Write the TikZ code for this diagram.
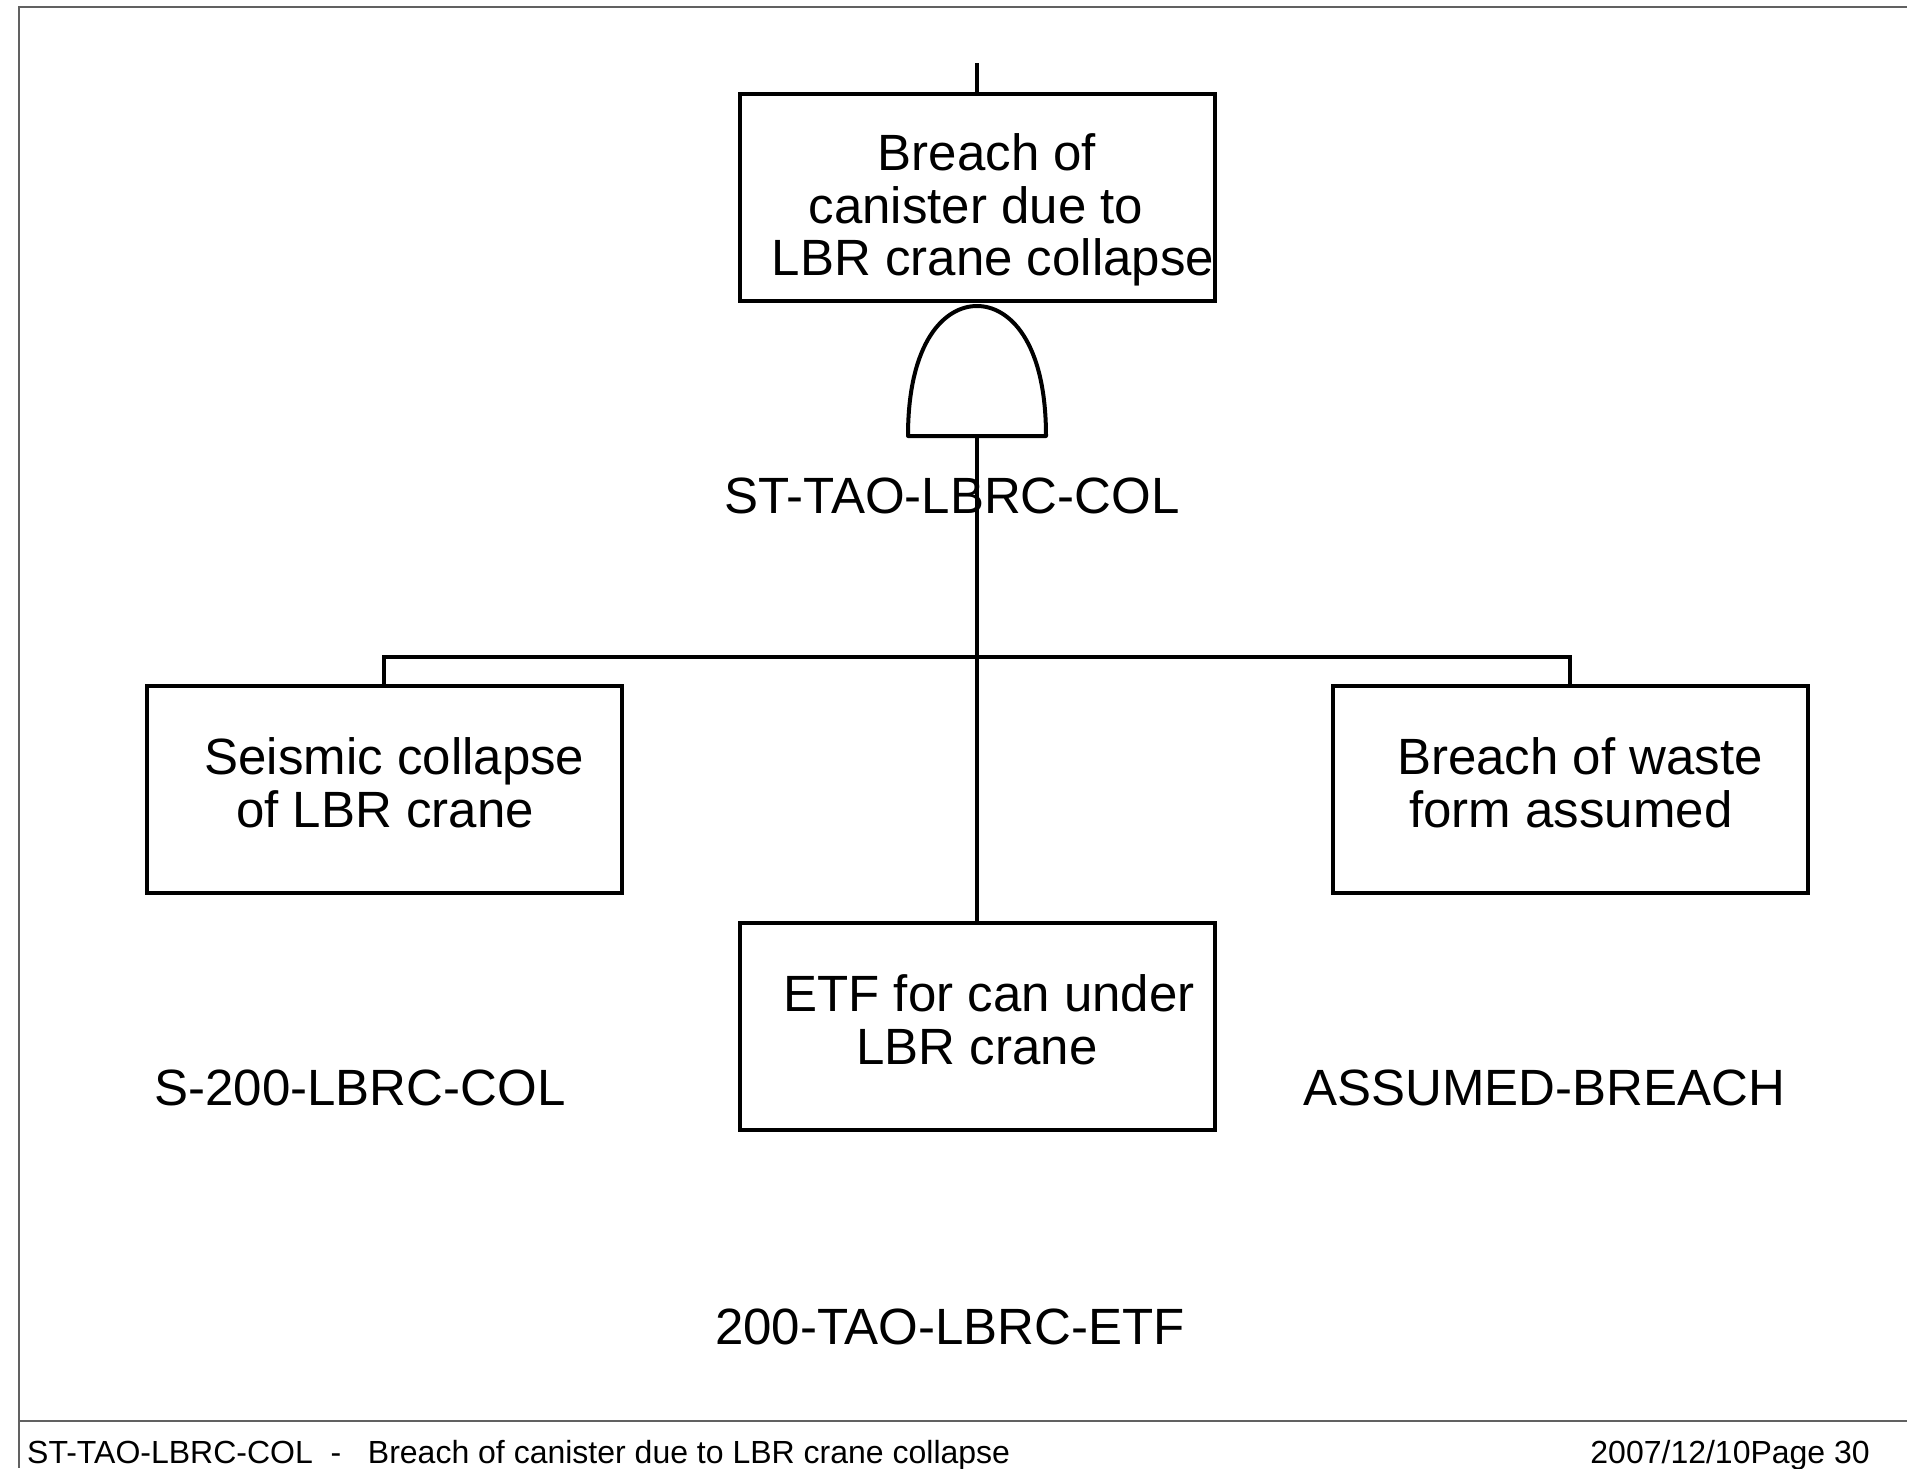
\documentclass[tikz,border=0pt]{standalone}
\usepackage{fontspec}
\setmainfont{Liberation Sans}
\newcommand\shln[2]{\makebox[0pt]{\kern#1pt\relax #2}}
\begin{document}
\begin{tikzpicture}[x=1pt,y=-1pt,
  evbox/.style={draw=black,line width=4pt,rectangle,minimum width=475pt,minimum height=207pt,inner sep=0pt},
  evtxt/.style={inner sep=0pt,align=center,font=\fontsize{51}{52.5}\selectfont},
  lbl/.style={font=\fontsize{51}{52.5}\selectfont,inner sep=0pt,anchor=base},
  foot/.style={font=\fontsize{32}{36}\selectfont,inner sep=0pt},
  conn/.style={line width=4pt,black},
  frame/.style={line width=2pt,color=black!62}]
\useasboundingbox (0,0) rectangle (1907,1468);
\fill[white] (0,0) rectangle (1907,1468);
% frame
\draw[frame] (1907,7) -- (19,7) -- (19,1468);
\draw[frame] (19,1421) -- (1907,1421);
% top event
\node[evbox] (top) at (977,197) {};
\node[evtxt] (toptxt) at ([shift={(0,13)}]top.center) {\shln{20}{Breach of}\\\shln{-2}{canister due to}\\\shln{32}{LBR crane collapse}};
\coordinate (topin) at (977,63);
\draw[conn] (topin) -- (top.north);
% AND gate
\coordinate (gatebase) at (977,436);
\draw[conn,line join=round] ([xshift=-69pt]gatebase) .. controls +(0,-95) and +(-32,0) .. (977,306)
  .. controls +(32,0) and +(0,-95) .. ([xshift=69pt]gatebase) -- cycle;
\node[lbl] (gatelbl) at (952,513) {ST-TAO-LBRC-COL};
% children
\node[evbox] (left) at (384,789) {};
\node[evtxt] (lefttxt) at ([shift={(0,-6)}]left.center) {\shln{21}{Seismic collapse}\\\shln{2}{of LBR crane}};
\node[evbox] (right) at (1570,789) {};
\node[evtxt] (righttxt) at ([shift={(0,-6)}]right.center) {\shln{20}{Breach of waste}\\\shln{2}{form assumed}};
\node[evbox] (mid) at (977,1026) {};
\node[evtxt] (midtxt) at ([shift={(0,-6)}]mid.center) {\shln{24}{ETF for can under}\\\shln{0}{LBR crane}};
\coordinate (bus) at (977,657);
\draw[conn] (gatebase) -- (mid.north);
\draw[conn] (left.north) |- (bus) -| (right.north);
% labels
\node[lbl] (leftlbl) at (360,1105) {S-200-LBRC-COL};
\node[lbl] (rightlbl) at (1544,1105) {ASSUMED-BREACH};
\node[lbl] (midlbl) at (950,1344) {200-TAO-LBRC-ETF};
% footer
\node[foot,anchor=base west] (footl) at (27,1463) {ST-TAO-LBRC-COL\ \ -\ \ \ Breach of canister due to LBR crane collapse};
\node[foot,anchor=base east] (footr) at (1870,1463) {2007/12/10Page 30};
\end{tikzpicture}
\end{document}
